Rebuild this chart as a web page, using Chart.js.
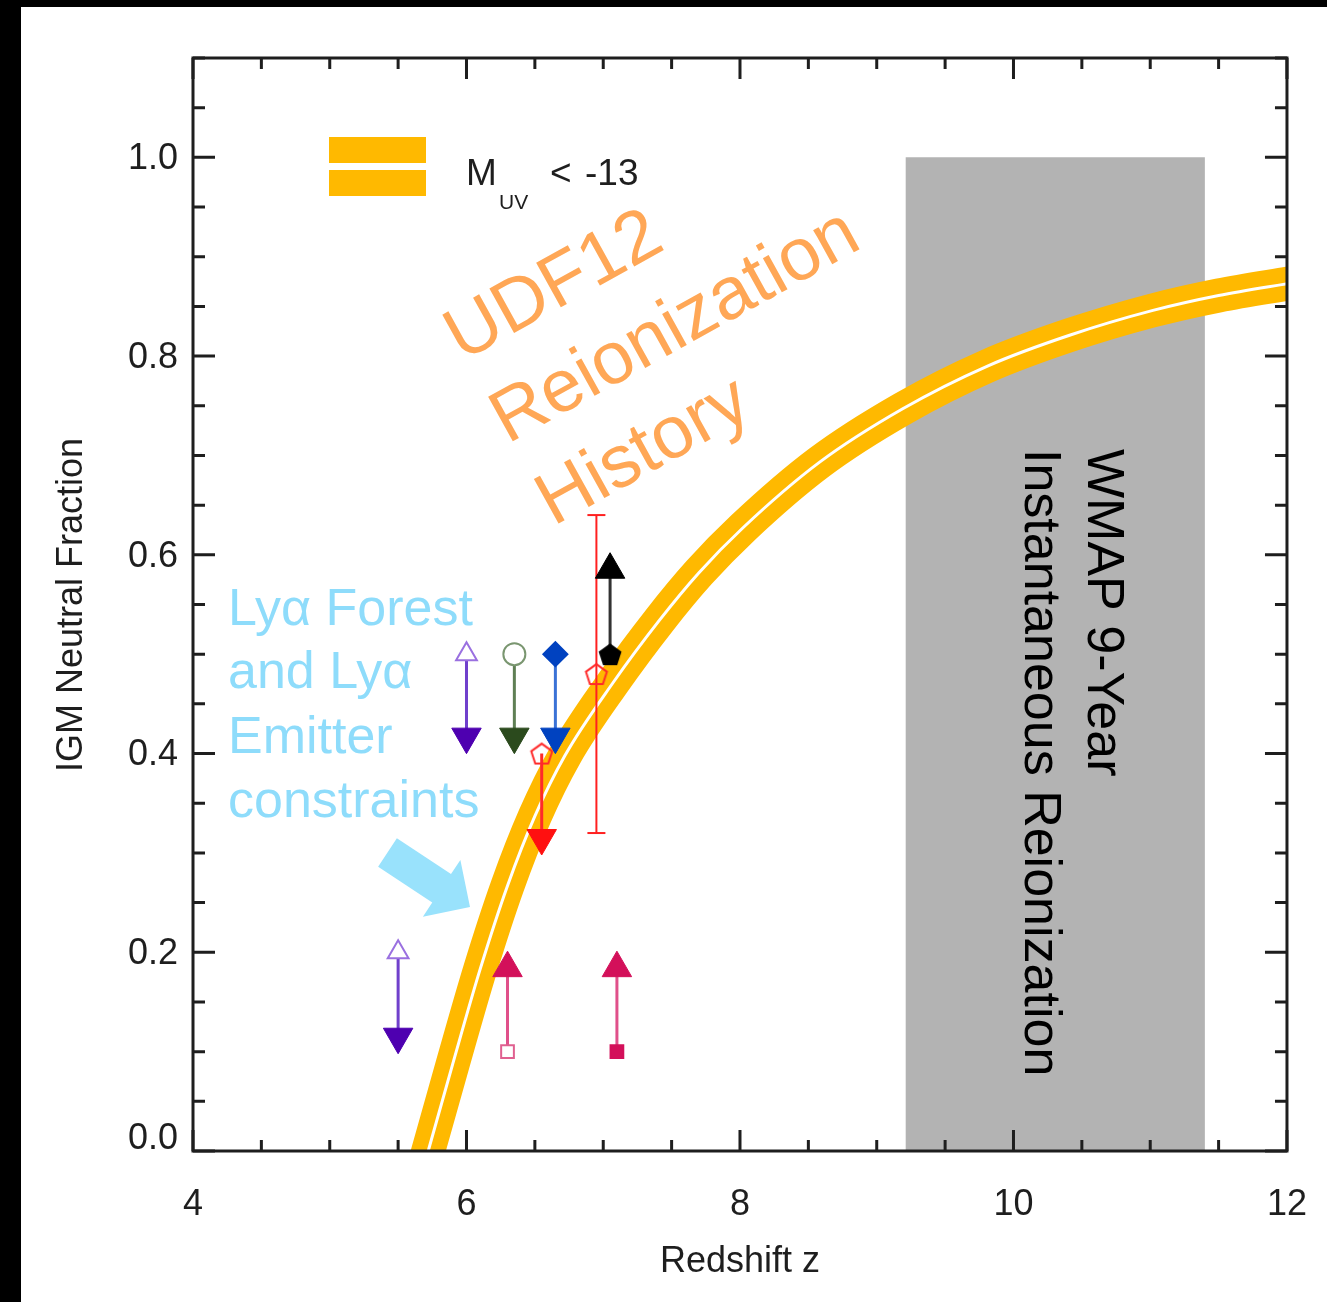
<!DOCTYPE html>
<html>
<head>
<meta charset="utf-8">
<script src="https://cdn.jsdelivr.net/npm/chart.js@4.4.1/dist/chart.umd.min.js"></script>
<style>
  html, body { margin: 0; padding: 0; background: #000; }
  canvas { display: block; }
</style>
</head>
<body>
<canvas id="chart" width="1327" height="1302"></canvas>
<script>
const FONT = '"Liberation Sans", Arial, Helvetica, sans-serif';
const INK = '#1e1e1e';

// tick labels
const xTicks = [4, 6, 8, 10, 12];
const yTicks = [0.0, 0.2, 0.4, 0.6, 0.8, 1.0];

// UDF12 reionization history, centre of the band
const bandZ = [5.66, 5.72, 5.90, 6.10, 6.30, 6.50, 6.72, 7.07, 7.41, 7.70, 8.02, 8.58, 9.19, 9.81, 10.41, 11.02, 11.50, 12.05];
const bandF = [-0.03, 0.0, 0.088, 0.183, 0.267, 0.337, 0.398, 0.471, 0.534, 0.582, 0.627, 0.693, 0.747, 0.790, 0.821, 0.846, 0.861, 0.874];

// WMAP 9-year instantaneous reionization window
const wmapZ = [9.21, 11.40];
const wmapTop = 1.0;

// Lya forest / emitter limits: redshift, marker value, arrow tip value
const limitZ    = [5.5, 6.0, 6.35, 6.65, 6.55, 7.05, 6.3, 7.1];
const limitFrom = [0.20, 0.50, 0.50, 0.50, 0.40, 0.50, 0.10, 0.10];
const limitTo   = [0.115, 0.417, 0.417, 0.417, 0.315, 0.585, 0.184, 0.184];

// two-sided measurement with error bar
const errZ = 6.95;
const errMid = 0.48;
const errLow = 0.32;
const errHigh = 0.64;

function pentagon(r, fill, stroke) {
    const c = document.createElement('canvas');
    c.width = c.height = Math.ceil(r * 2 + 4);
    const g = c.getContext('2d');
    const cx = c.width / 2, cy = c.height / 2 + r * 0.1;
    g.beginPath();
    for (let k = 0; k < 5; k++) {
        const a = -Math.PI / 2 + k * 2 * Math.PI / 5;
        g.lineTo(cx + r * Math.cos(a), cy + r * Math.sin(a));
    }
    g.closePath();
    if (fill) { g.fillStyle = fill; g.fill(); }
    if (stroke) { g.strokeStyle = stroke; g.lineWidth = 2; g.stroke(); }
    return c;
}

const blackPent = pentagon(12, '#000', null);
const redPent = pentagon(11, null, '#ff2a2a');

// marker styles for each limit: start marker, line and arrow head
const limitStyle = [
    {line: '#7040cc', head: '#4e00b0', start: {style: 'triangle', r: 12, fill: '#fff', edge: '#9a70e0'}, up: false},
    {line: '#7040cc', head: '#4e00b0', start: {style: 'triangle', r: 12, fill: '#fff', edge: '#9a70e0'}, up: false},
    {line: '#5f7f54', head: '#2b4a1d', start: {style: 'circle', r: 11, fill: '#fff', edge: '#7a9670'}, up: false},
    {line: '#3a72d6', head: '#0042c0', start: {style: 'rectRot', r: 12, fill: '#0042c0', edge: '#0042c0'}, up: false},
    {line: '#ff2a2a', head: '#ff1010', start: {style: redPent, r: 11, fill: 'rgba(0,0,0,0)', edge: '#ff2a2a'}, up: false},
    {line: '#333333', head: '#000000', start: {style: blackPent, r: 12, fill: '#000', edge: '#000'}, up: true},
    {line: '#e0508a', head: '#d3105a', start: {style: 'rect', r: 9, fill: '#fff', edge: '#e06090'}, up: true},
    {line: '#e0508a', head: '#d3105a', start: {style: 'rect', r: 9, fill: '#d3105a', edge: '#d3105a'}, up: true}
];

const limitSets = limitZ.map((z, i) => {
    const s = limitStyle[i];
    return {
        data: [{x: z, y: limitFrom[i]}, {x: z, y: limitTo[i]}],
        showLine: true,
        borderColor: s.line,
        borderWidth: 3,
        pointStyle: [s.start.style, 'triangle'],
        pointRadius: [s.start.r, 17],
        pointRotation: [0, s.up ? 0 : 180],
        pointBackgroundColor: [s.start.fill, s.head],
        pointBorderColor: [s.start.edge, s.head],
        pointBorderWidth: [2, 1],
        order: 0
    };
});

const datasets = [
    {
        // WMAP box, filled down to zero
        data: wmapZ.map(z => ({x: z, y: wmapTop})),
        showLine: true,
        borderWidth: 0,
        pointRadius: 0,
        fill: 'origin',
        backgroundColor: '#b3b3b3',
        order: 10
    },
    {
        data: bandZ.map((z, i) => ({x: z, y: bandF[i]})),
        showLine: true,
        borderColor: '#ffb900',
        borderWidth: 34,
        pointRadius: 0,
        cubicInterpolationMode: 'monotone',
        clip: 0,
        order: 5
    },
    {
        data: bandZ.map((z, i) => ({x: z, y: bandF[i]})),
        showLine: true,
        borderColor: '#ffffff',
        borderWidth: 3,
        pointRadius: 0,
        cubicInterpolationMode: 'monotone',
        clip: 0,
        order: 4
    },
    {
        data: [{x: errZ, y: errLow}, {x: errZ, y: errMid}, {x: errZ, y: errHigh}],
        showLine: true,
        borderColor: '#ff2020',
        borderWidth: 2,
        pointStyle: ['line', redPent, 'line'],
        pointRadius: [9, 11, 9],
        pointBorderColor: '#ff2020',
        pointBackgroundColor: 'rgba(0,0,0,0)',
        pointBorderWidth: 2,
        order: 1
    },
    ...limitSets
];

const decorations = {
    id: 'decorations',
    beforeDraw(chart) {
        const ctx = chart.ctx;
        ctx.save();
        ctx.fillStyle = '#000';
        ctx.fillRect(0, 0, chart.width, chart.height);
        ctx.fillStyle = '#fff';
        ctx.fillRect(21, 7, chart.width - 21, chart.height - 7);
        ctx.restore();
    },
    afterDatasetsDraw(chart) {
        const ctx = chart.ctx;
        const {left, right, top, bottom} = chart.chartArea;
        const xs = chart.scales.x, ys = chart.scales.y;
        ctx.save();

        // inward ticks on all four sides
        ctx.strokeStyle = INK;
        ctx.lineWidth = 3;
        ctx.beginPath();
        for (let i = 0; i <= 16; i++) {
            const px = xs.getPixelForValue(4 + i * 0.5);
            const len = i % 4 === 0 ? 21 : 11;
            ctx.moveTo(px, bottom); ctx.lineTo(px, bottom - len);
            ctx.moveTo(px, top); ctx.lineTo(px, top + len);
        }
        for (let i = 0; i <= 22; i++) {
            const py = ys.getPixelForValue(i * 0.05);
            const len = i % 4 === 0 ? 22 : 12;
            ctx.moveTo(left, py); ctx.lineTo(left + len, py);
            ctx.moveTo(right, py); ctx.lineTo(right - len, py);
        }
        ctx.stroke();
        ctx.strokeRect(left, top, right - left, bottom - top);

        // legend swatch
        ctx.fillStyle = '#ffb900';
        ctx.fillRect(329, 137, 97, 26);
        ctx.fillRect(329, 170, 97, 26);
        ctx.fillStyle = INK;
        ctx.textAlign = 'left';
        ctx.textBaseline = 'alphabetic';
        ctx.font = `37px ${FONT}`;
        ctx.fillText('M', 466, 185);
        ctx.fillText('<', 550, 185);
        ctx.fillText('-13', 585, 185);
        ctx.font = `21px ${FONT}`;
        ctx.fillText('UV', 499, 209);

        // axis titles
        ctx.font = `36px ${FONT}`;
        ctx.textAlign = 'center';
        ctx.textBaseline = 'middle';
        ctx.fillText('Redshift z', 740, 1262);
        ctx.save();
        ctx.translate(72, 605);
        ctx.rotate(-Math.PI / 2);
        ctx.fillText('IGM Neutral Fraction', 0, 0);
        ctx.restore();

        // WMAP label, reading downwards
        ctx.save();
        ctx.font = `52px ${FONT}`;
        ctx.fillStyle = '#000';
        ctx.textAlign = 'left';
        ctx.textBaseline = 'alphabetic';
        ctx.translate(1088, 449);
        ctx.rotate(Math.PI / 2);
        ctx.fillText('WMAP 9-Year', 0, 0);
        ctx.fillText('Instantaneous Reionization', 0, 63);
        ctx.restore();

        // UDF12 label along the curve
        ctx.save();
        ctx.font = `74px ${FONT}`;
        ctx.fillStyle = '#ffa756';
        ctx.textAlign = 'left';
        ctx.textBaseline = 'alphabetic';
        ctx.translate(462, 362);
        ctx.rotate(-29 * Math.PI / 180);
        ctx.fillText('UDF12', 0, 0);
        ctx.fillText('Reionization', 0, 94);
        ctx.fillText('History', 0, 188);
        ctx.restore();

        // Lya constraints note
        ctx.font = `52px ${FONT}`;
        ctx.fillStyle = '#8edcfb';
        ctx.textAlign = 'left';
        ctx.textBaseline = 'alphabetic';
        ctx.fillText('Lyα Forest', 228, 625);
        ctx.fillText('and Lyα', 228, 688);
        ctx.fillText('Emitter', 228, 753);
        ctx.fillText('constraints', 228, 817);

        // fat arrow pointing at the band
        const tail = [387.5, 852.5], tip = [470, 907];
        const dx = tip[0] - tail[0], dy = tip[1] - tail[1];
        const L = Math.hypot(dx, dy);
        const d = [dx / L, dy / L], n = [-d[1], d[0]];
        const base = [tip[0] - 34 * d[0], tip[1] - 34 * d[1]];
        const pt = (p, k) => [p[0] + k * n[0], p[1] + k * n[1]];
        const poly = [pt(tail, 17), pt(base, 17), pt(base, 34), tip, pt(base, -34), pt(base, -17), pt(tail, -17)];
        ctx.fillStyle = '#99e2fc';
        ctx.beginPath();
        poly.forEach((p, i) => i ? ctx.lineTo(p[0], p[1]) : ctx.moveTo(p[0], p[1]));
        ctx.closePath();
        ctx.fill();

        ctx.restore();
    }
};

new Chart(document.getElementById('chart'), {
    type: 'scatter',
    data: {datasets},
    options: {
        responsive: false,
        animation: false,
        devicePixelRatio: 1,
        layout: {padding: {left: 0, top: 58, right: 40, bottom: 0}},
        plugins: {legend: {display: false}, tooltip: {enabled: false}},
        scales: {
            x: {
                type: 'linear',
                min: 4,
                max: 12,
                afterBuildTicks: s => { s.ticks = xTicks.map(v => ({value: v})); },
                afterFit: s => { s.height = 151; },
                grid: {display: false, drawTicks: false},
                border: {display: false},
                ticks: {
                    font: {family: FONT, size: 36, lineHeight: 1.9},
                    color: INK,
                    padding: 20,
                    maxRotation: 0,
                    callback: v => String(v)
                }
            },
            y: {
                type: 'linear',
                min: 0,
                max: 1.1,
                afterBuildTicks: s => { s.ticks = yTicks.map(v => ({value: v})); },
                afterFit: s => { s.width = 193; },
                grid: {display: false, drawTicks: false},
                border: {display: false},
                ticks: {
                    font: {family: FONT, size: 36, lineHeight: 0.8},
                    color: INK,
                    padding: 15,
                    labelOffset: 2,
                    // lift the bottom label off the x axis
                    callback: v => v === 0 ? ['0.0', ''] : v.toFixed(1)
                }
            }
        }
    },
    plugins: [decorations]
});
</script>
</body>
</html>
